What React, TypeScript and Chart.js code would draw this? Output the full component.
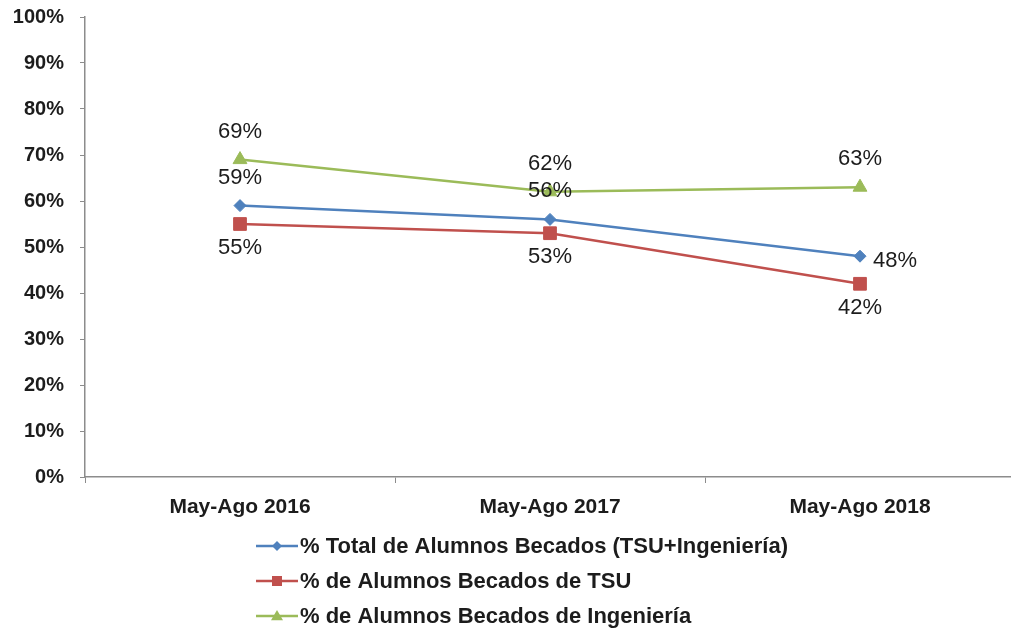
import React, { useEffect, useRef } from "react";
import { Chart, registerables } from "chart.js";

Chart.register(...registerables);

const categories = ["May-Ago 2016", "May-Ago 2017", "May-Ago 2018"];
const totalValues = [59, 56, 48];
const tsuValues = [55, 53, 42];
const ingValues = [69, 62, 63];
const seriesNames = [
  "% Total de Alumnos Becados (TSU+Ingeniería)",
  "% de Alumnos Becados de TSU",
  "% de Alumnos Becados de Ingeniería",
];
const yTicks = [0, 10, 20, 30, 40, 50, 60, 70, 80, 90, 100];

const BLUE = "#4F81BD";
const RED = "#C0504D";
const GREEN = "#9BBB59";
const TEXT = "#1c1c1c";
const FONT = "'Liberation Sans', Arial, sans-serif";

// label placement per dataset (style config)
const labelPlacement: string[][] = [
  ["above", "above", "right"],
  ["below", "below", "below"],
  ["above", "above", "above"],
];

const dataLabelPlugin = {
  id: "dataLabels",
  afterDatasetsDraw(chart: any) {
    const ctx = chart.ctx;
    ctx.save();
    ctx.font = `22px ${FONT}`;
    ctx.fillStyle = TEXT;
    ctx.textBaseline = "middle";
    chart.data.datasets.forEach((ds: any, di: number) => {
      const meta = chart.getDatasetMeta(di);
      meta.data.forEach((pt: any, i: number) => {
        const txt = ds.data[i] + "%";
        const pos = labelPlacement[di][i];
        let x = pt.x;
        let y = pt.y;
        ctx.textAlign = "center";
        if (pos === "above") y -= 28;
        else if (pos === "below") y += 24;
        else if (pos === "right") {
          x += 13;
          y += 5;
          ctx.textAlign = "left";
        }
        ctx.fillText(txt, x, y);
      });
    });
    ctx.restore();
  },
};

const legendPlugin = {
  id: "customLegend",
  afterDraw(chart: any) {
    const ctx = chart.ctx;
    ctx.save();
    const rowsY = [546, 581, 616];
    chart.data.datasets.forEach((ds: any, di: number) => {
      const y = rowsY[di];
      ctx.strokeStyle = ds.borderColor;
      ctx.lineWidth = 2.5;
      ctx.beginPath();
      ctx.moveTo(256, y);
      ctx.lineTo(298, y);
      ctx.stroke();
      ctx.fillStyle = ds.borderColor;
      const cx = 277;
      ctx.beginPath();
      if (ds.pointStyle === "rectRot") {
        const r = 5;
        ctx.moveTo(cx, y - r);
        ctx.lineTo(cx + r, y);
        ctx.lineTo(cx, y + r);
        ctx.lineTo(cx - r, y);
        ctx.closePath();
      } else if (ds.pointStyle === "rect") {
        const s = 5;
        ctx.rect(cx - s, y - s, 2 * s, 2 * s);
      } else {
        const h = 6;
        ctx.moveTo(cx, y - h);
        ctx.lineTo(cx + h, y + h * 0.7);
        ctx.lineTo(cx - h, y + h * 0.7);
        ctx.closePath();
      }
      ctx.fill();
      ctx.fillStyle = TEXT;
      ctx.font = `bold 22px ${FONT}`;
      ctx.textAlign = "left";
      ctx.textBaseline = "middle";
      ctx.fillText(ds.label, 300, y + 1);
    });
    ctx.restore();
  },
};

function zeroPadding(scale: any) {
  scale.paddingTop = 0;
  scale.paddingBottom = 0;
  scale.paddingLeft = 0;
  scale.paddingRight = 0;
}

export default function App() {
  const ref = useRef<HTMLCanvasElement | null>(null);
  useEffect(() => {
    document.body.style.margin = "0";
    const canvas = ref.current!;
    const chart = new Chart(canvas, {
      type: "line",
      data: {
        labels: categories,
        datasets: [
          {
            label: seriesNames[0],
            data: totalValues,
            borderColor: BLUE,
            backgroundColor: BLUE,
            borderWidth: 2.5,
            pointStyle: "rectRot",
            pointRadius: 6,
            pointBorderWidth: 1,
            fill: false,
          },
          {
            label: seriesNames[1],
            data: tsuValues,
            borderColor: RED,
            backgroundColor: RED,
            borderWidth: 2.5,
            pointStyle: "rect",
            pointRadius: 9,
            pointBorderWidth: 1,
            fill: false,
          },
          {
            label: seriesNames[2],
            data: ingValues,
            borderColor: GREEN,
            backgroundColor: GREEN,
            borderWidth: 2.5,
            pointStyle: "triangle",
            pointRadius: 8,
            pointBorderWidth: 1,
            fill: false,
          },
        ],
      },
      options: {
        responsive: false,
        animation: false,
        events: [],
        layout: { padding: { left: 0, right: 3, top: 17, bottom: 108 } },
        plugins: {
          legend: { display: false },
          tooltip: { enabled: false },
          title: { display: false },
        },
        scales: {
          x: {
            type: "category",
            offset: true,
            grid: {
              display: true,
              offset: true,
              drawOnChartArea: false,
              drawTicks: true,
              tickLength: 6,
              color: "#8c8c8c",
            },
            border: { display: true, color: "#8c8c8c", width: 1.5 },
            ticks: {
              color: TEXT,
              font: { family: FONT, size: 21, weight: "bold" },
              padding: 12,
              maxRotation: 0,
            },
            afterFit(scale: any) {
              scale.height = 45;
              zeroPadding(scale);
            },
          },
          y: {
            type: "linear",
            min: 0,
            max: 100,
            afterBuildTicks(scale: any) {
              scale.ticks = yTicks.map((v) => ({ value: v }));
            },
            grid: {
              display: true,
              drawOnChartArea: false,
              drawTicks: true,
              tickLength: 5,
              color: "#8c8c8c",
            },
            border: { display: true, color: "#8c8c8c", width: 1.5 },
            ticks: {
              color: TEXT,
              font: { family: FONT, size: 20, weight: "bold" },
              padding: 16,
              callback: (v: any) => v + "%",
            },
            afterFit(scale: any) {
              scale.width = 85;
              zeroPadding(scale);
            },
          },
        },
      },
      plugins: [dataLabelPlugin, legendPlugin],
    });
    return () => chart.destroy();
  }, []);
  return (
    <div
      style={{
        position: "absolute",
        left: 0,
        top: 0,
        width: 1011,
        height: 630,
        overflow: "hidden",
        background: "#fff",
      }}
    >
      <div style={{ width: 1025, height: 630 }}>
        <canvas ref={ref} width={1025} height={630} style={{ display: "block" }} />
      </div>
    </div>
  );
}
